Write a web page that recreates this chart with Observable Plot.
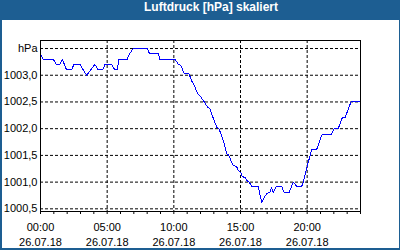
<!DOCTYPE html>
<html>
<head>
<meta charset="utf-8">
<script src="https://cdn.jsdelivr.net/npm/d3@7"></script>
<script src="https://cdn.jsdelivr.net/npm/@observablehq/plot@0.6"></script>
<style>
  html, body { margin: 0; padding: 0; background: #fff; }
  #wrap { position: relative; width: 400px; height: 250px; background: #1d5e92; overflow: hidden; }
  #title { position: absolute; left: 0; top: 0; width: 400px; height: 20px; line-height: 20px;
           color: #fff; font: bold 12px "Liberation Sans", Arial, sans-serif; text-align: center;
           padding-left: 22px; box-sizing: border-box; }
  #inner { position: absolute; left: 2px; top: 20px; width: 397px; height: 228px; background: #fff; }
  #inner svg { display: block; }
</style>
</head>
<body>
<div id="wrap">
  <div id="title">Luftdruck [hPa] skaliert</div>
  <div id="inner"></div>
</div>
<script>
// hours since 00:00 on 26.07.18
const hours = [0.00,0.20,0.95,1.20,1.45,1.63,1.96,2.33,2.50,2.96,3.46,3.76,4.08,4.33,4.66,4.83,5.33,5.58,5.75,5.88,
  6.50,6.62,6.71,6.95,8.00,8.17,8.83,8.95,10.08,10.33,10.53,10.78,11.13,11.33,11.58,11.79,12.03,12.28,12.54,12.71,
  12.88,13.03,13.21,13.38,13.59,13.78,13.96,14.13,14.34,14.46,14.71,14.83,15.03,15.13,15.33,15.46,15.66,15.84,16.33,
  16.59,16.83,16.98,17.21,17.33,17.46,17.60,17.71,18.09,18.26,18.65,18.96,19.21,19.59,19.71,19.89,20.08,20.34,20.71,
  21.13,21.84,22.03,22.33,22.63,22.83,23.29,23.96];
// pressure in hPa
const pressure = [1003.40,1003.30,1003.30,1003.20,1003.20,1003.30,1003.10,1003.10,1003.20,1003.20,1003.00,1003.10,1003.20,1003.10,1003.10,1003.20,1003.20,1003.10,1003.10,1003.30,
  1003.30,1003.37,1003.41,1003.50,1003.50,1003.41,1003.41,1003.30,1003.30,1003.21,1003.18,1003.03,1003.03,1002.90,1002.78,1002.65,1002.59,1002.50,1002.40,1002.37,
  1002.25,1002.15,1002.03,1002.00,1001.87,1001.72,1001.53,1001.50,1001.37,1001.31,1001.29,1001.22,1001.17,1001.10,1001.09,1001.03,1001.00,1000.92,1000.92,
  1000.62,1000.73,1000.79,1000.81,1000.90,1000.80,1000.88,1000.92,1000.92,1000.81,1000.81,1001.00,1000.92,1000.92,1001.00,1001.18,1001.37,1001.61,1001.61,
  1001.90,1001.90,1002.00,1002.00,1002.20,1002.20,1002.50,1002.50];

const yTicks = [1000.5, 1001.0, 1001.5, 1002.0, 1002.5, 1003.0, 1003.5];
const xLabelTicks = [0, 5, 10, 15, 20];
const xGridTicks = [5, 10, 15, 20];
const xMinorTicks = d3.range(0, 25);
const dateLabel = "26.07.18";

const data = hours.map((h, i) => ({h, p: pressure[i]}));

const chart = Plot.plot({
  width: 397,
  height: 228,
  marginLeft: 38,
  marginRight: 39,
  marginTop: 20,
  marginBottom: 37,
  style: {fontFamily: "'Liberation Sans', Arial, sans-serif", fontSize: "11px", color: "#000", background: "#fff"},
  x: {domain: [0, 24], label: null},
  y: {domain: [1000.45, 1003.65], label: null},
  marks: [
    Plot.ruleY(yTicks, {stroke: "#000", strokeDasharray: "3,2", strokeOpacity: 1}),
    Plot.ruleX(xGridTicks, {stroke: "#000", strokeDasharray: "3,2", strokeOpacity: 1}),
    Plot.line(data, {x: "h", y: "p", stroke: "#0000ff", strokeWidth: 1, shapeRendering: "crispEdges"}),
    Plot.frame({stroke: "#000", strokeOpacity: 1}),
    Plot.axisY({ticks: yTicks, tickSize: 0, tickPadding: 3, label: null,
      tickFormat: d => d === 1003.5 ? "hPa" : d.toFixed(1).replace(".", ","), fill: "#000"}),
    Plot.axisX({ticks: xMinorTicks, tickSize: 3, tickFormat: () => "", label: null, stroke: "#000", strokeOpacity: 1}),
    Plot.axisX({ticks: xLabelTicks, tickSize: 0, tickPadding: 9, lineHeight: 1.36, fill: "#000", label: null,
      tickFormat: d => String(d).padStart(2, "0") + ":00\n" + dateLabel})
  ]
});
document.getElementById("inner").appendChild(chart);
</script>
</body>
</html>
